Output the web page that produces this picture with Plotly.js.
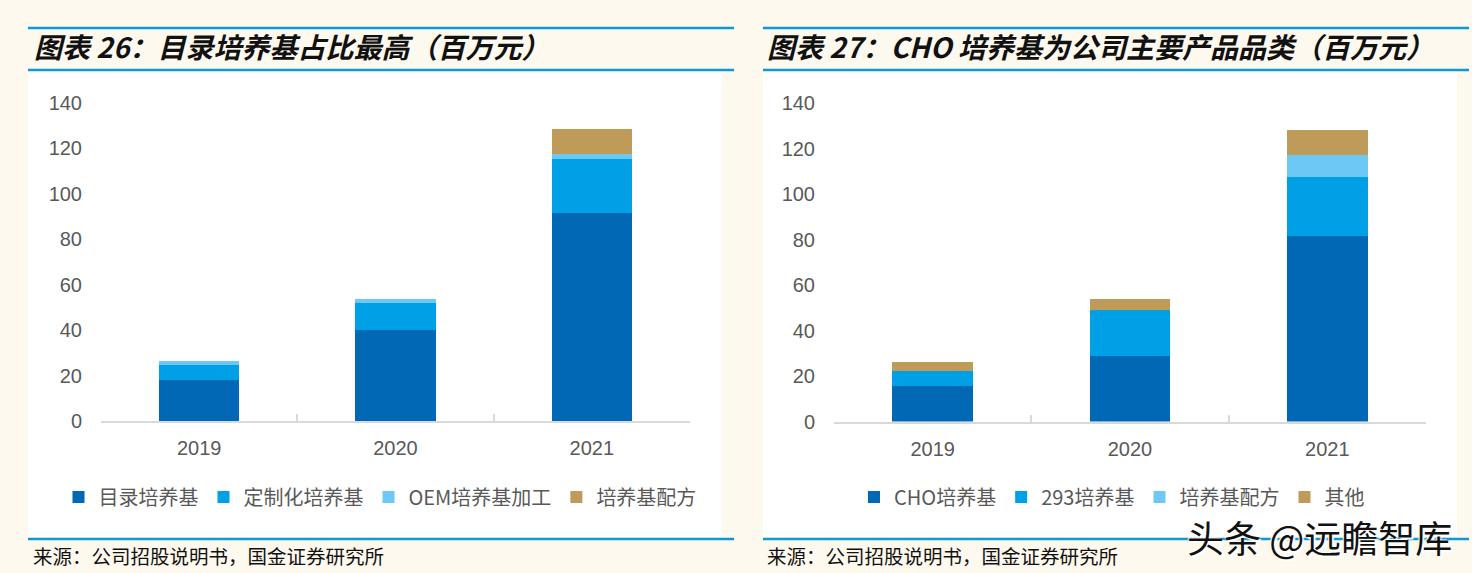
<!DOCTYPE html>
<html>
<head>
<meta charset="utf-8">
<script src="https://cdn.plot.ly/plotly-3.0.1.min.js"></script>
<style>
html,body{margin:0;padding:0;background:#FEF9EE;}
#chart{width:1472px;height:573px;}
</style>
</head>
<body>
<div id="chart"></div>
<script>
// ---- data ----
const years = ['2019', '2020', '2021'];

// 图表 26
const leftNames = ['目录培养基', '定制化培养基', 'OEM培养基加工', '培养基配方'];
const catalogMedia = [18.1, 40.1, 91.5];
const customMedia = [6.4, 12.0, 23.9];
const oemMedia = [1.8, 1.6, 2.2];
const mediaFormulaL = [0, 0, 10.9];

// 图表 27
const rightNames = ['CHO培养基', '293培养基', '培养基配方', '其他'];
const choMedia = [15.4, 28.9, 81.4];
const media293 = [7.0, 20.2, 26.1];
const mediaFormulaR = [0, 0, 9.6];
const otherMedia = [3.9, 4.6, 11.2];

const yTicks = [0, 20, 40, 60, 80, 100, 120, 140];

const leftTitle = '图表 26：目录培养基占比最高（百万元）';
const rightTitle = '图表 27：CHO 培养基为公司主要产品品类（百万元）';
const sourceText = '来源：公司招股说明书，国金证券研究所';
const watermark = '头条 @远瞻智库';

// ---- styles ----
const colors = ['#0068B5', '#00A0E6', '#6DC8F5', '#BF9B5A'];
const W = 1472, H = 573;
const px = v => v / W;
const py = v => 1 - v / H;
const CJK = '"Noto Sans CJK SC", "Liberation Sans", sans-serif';
const NUM = '"Liberation Sans", Arial, sans-serif';
const lineBlue = '#0A9ADA';

function bar(name, vals, i, xa, ya, lg) {
  return {
    type: 'bar', name: name, x: years, y: vals,
    xaxis: xa, yaxis: ya, legend: lg,
    marker: {color: colors[i], line: {width: 0}},
    hoverinfo: 'skip'
  };
}

const leftSeries = [catalogMedia, customMedia, oemMedia, mediaFormulaL];
const rightSeries = [choMedia, media293, mediaFormulaR, otherMedia];
const traces = [];
leftSeries.forEach((s, i) => traces.push(bar(leftNames[i], s, i, 'x', 'y', 'legend')));
rightSeries.forEach((s, i) => traces.push(bar(rightNames[i], s, i, 'x2', 'y2', 'legend2')));

const xCommon = {
  type: 'category', showline: true, linecolor: '#D9D9D9', linewidth: 2,
  ticks: 'inside', tickson: 'boundaries', ticklen: 7, tickcolor: '#D9D9D9', tickwidth: 2,
  showgrid: false, zeroline: false,
  tickfont: {family: NUM, size: 20, color: '#595959'},
  ticklabelstandoff: 8, fixedrange: true
};
const yCommon = {
  range: [0, 140], tickvals: yTicks, showgrid: false, zeroline: false, showline: false,
  ticks: '', tickfont: {family: NUM, size: 20, color: '#595959'},
  ticklabelstandoff: 18, fixedrange: true
};

const legendCommon = {
  orientation: 'h', xanchor: 'center', yanchor: 'middle',
  font: {family: CJK, size: 20, color: '#595959'},
  bgcolor: 'rgba(0,0,0,0)', traceorder: 'normal', itemwidth: 30
};

const shapes = [
  // white panels
  {type: 'rect', xref: 'paper', yref: 'paper', x0: px(28), x1: px(722), y0: py(537), y1: py(71), fillcolor: '#FFFFFF', line: {width: 0}, layer: 'below'},
  {type: 'rect', xref: 'paper', yref: 'paper', x0: px(763), x1: px(1457), y0: py(537), y1: py(71), fillcolor: '#FFFFFF', line: {width: 0}, layer: 'below'}
];
[[28, 734], [763, 1469]].forEach(([a, b]) => {
  [28, 70, 539].forEach(yy => shapes.push({
    type: 'line', xref: 'paper', yref: 'paper', x0: px(a), x1: px(b), y0: py(yy), y1: py(yy),
    line: {color: lineBlue, width: 2.5}
  }));
});

const annotations = [
  {text: '<b><i>' + leftTitle + '</i></b>', xref: 'paper', yref: 'paper', x: px(32), y: py(46),
   xanchor: 'left', yanchor: 'middle', showarrow: false, font: {family: CJK, size: 28, color: '#111111'}},
  {text: '<b><i>' + rightTitle + '</i></b>', xref: 'paper', yref: 'paper', x: px(765), y: py(46),
   xanchor: 'left', yanchor: 'middle', showarrow: false, font: {family: CJK, size: 28, color: '#111111'}},
  {text: sourceText, xref: 'paper', yref: 'paper', x: px(31), y: py(555),
   xanchor: 'left', yanchor: 'middle', showarrow: false, font: {family: CJK, size: 19.5, color: '#111111'}},
  {text: sourceText, xref: 'paper', yref: 'paper', x: px(765), y: py(555),
   xanchor: 'left', yanchor: 'middle', showarrow: false, font: {family: CJK, size: 19.5, color: '#111111'}},
  {text: watermark, xref: 'paper', yref: 'paper', x: px(1319), y: py(537),
   xanchor: 'center', yanchor: 'middle', showarrow: false,
   font: {family: CJK, size: 37, color: '#111111', shadow: '2px 2px 1px #ffffff, -1px -1px 1px #ffffff'}}
];

const layout = {
  width: W, height: H,
  margin: {l: 0, r: 0, t: 0, b: 0},
  paper_bgcolor: '#FEF9EE', plot_bgcolor: 'rgba(0,0,0,0)',
  barmode: 'stack', bargap: 0.59,
  showlegend: true,
  xaxis: Object.assign({}, xCommon, {domain: [px(101), px(690)], anchor: 'y'}),
  yaxis: Object.assign({}, yCommon, {domain: [py(421), py(103)], anchor: 'x'}),
  xaxis2: Object.assign({}, xCommon, {domain: [px(834), px(1426)], anchor: 'y2'}),
  yaxis2: Object.assign({}, yCommon, {domain: [py(421.5), py(103)], anchor: 'x2'}),
  legend: Object.assign({}, legendCommon, {x: px(380), y: py(497)}),
  legend2: Object.assign({}, legendCommon, {x: px(1112), y: py(497)}),
  shapes: shapes,
  annotations: annotations
};

Plotly.newPlot('chart', traces, layout, {displayModeBar: false, staticPlot: true});
</script>
</body>
</html>
